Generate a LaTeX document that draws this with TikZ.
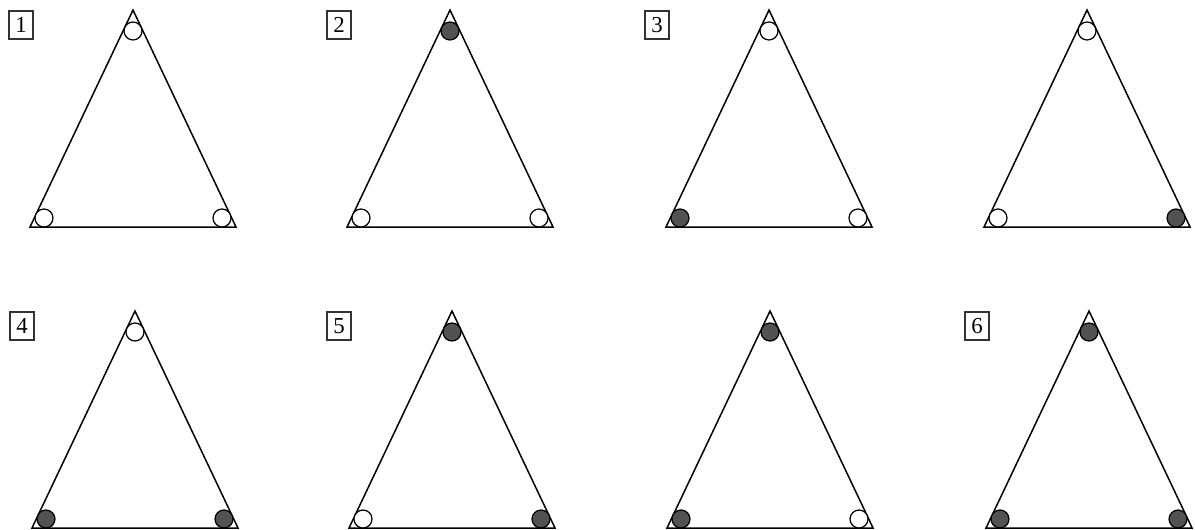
\documentclass[tikz,border=0pt]{standalone}
\usepackage{fontspec}
\setmainfont{Liberation Serif}
\tikzset{
  edge/.style={line width=0.85pt, line join=miter},
  emp/.style={circle, draw=black, fill=white, line width=0.7pt, inner sep=0pt, minimum size=0.36cm},
  ful/.style={circle, draw=black, fill=black!68, line width=0.7pt, inner sep=0pt, minimum size=0.36cm},
  numbox/.style={draw=black!80, line width=0.6pt, inner sep=0pt, minimum width=0.48cm, minimum height=0.56cm, font=\fontsize{13}{15}\selectfont}
}
\newcommand\tri[6]{%
  \coordinate (#1a) at (#2,#3);
  \coordinate (#1b) at ({#2-103},{#3+217});
  \coordinate (#1c) at ({#2+103},{#3+217});
  \draw[edge] (#1b) -- (#1a) -- (#1c) -- cycle;
  \node[#4] (#1t) at (#2,{#3+21}) {};
  \node[#5] (#1l) at ({#2-89},{#3+208}) {};
  \node[#6] (#1r) at ({#2+89},{#3+208}) {};
}
\begin{document}
\begin{tikzpicture}[x=0.02cm, y=-0.02cm]
\useasboundingbox (0,0) rectangle (1195,529);
\tri{p}{133}{10}{emp}{emp}{emp}
\tri{q}{450}{10}{ful}{emp}{emp}
\tri{r}{769}{10}{emp}{ful}{emp}
\tri{s}{1087}{10}{emp}{emp}{ful}
\tri{t}{135}{311}{emp}{ful}{ful}
\tri{u}{452}{311}{ful}{emp}{ful}
\tri{v}{770}{311}{ful}{ful}{emp}
\tri{w}{1089}{311}{ful}{ful}{ful}
\node[numbox] (n1) at (21,25) {1};
\node[numbox] (n2) at (339,25) {2};
\node[numbox] (n3) at (657,25) {3};
\node[numbox] (n4) at (22,326) {4};
\node[numbox] (n5) at (339,326) {5};
\node[numbox] (n6) at (977,326) {6};
\end{tikzpicture}
\end{document}
